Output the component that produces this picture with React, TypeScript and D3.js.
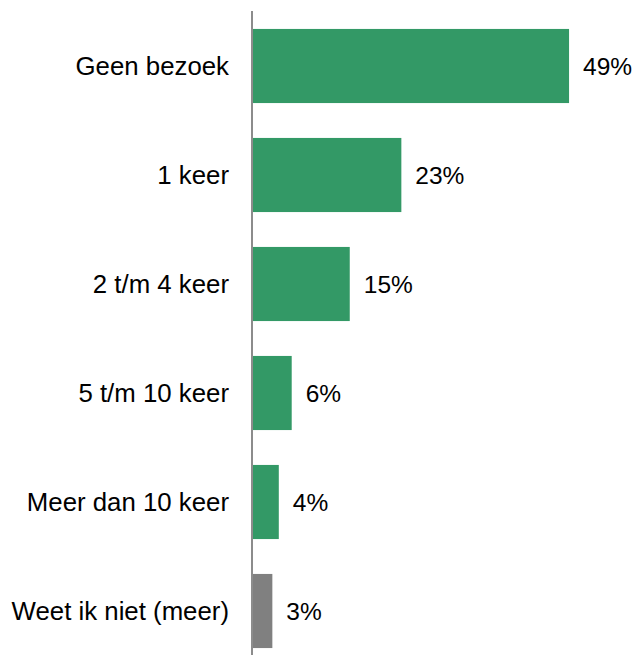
import React from "react";
import * as d3 from "d3";

const categories = ["Geen bezoek", "1 keer", "2 t/m 4 keer", "5 t/m 10 keer", "Meer dan 10 keer", "Weet ik niet (meer)"];
const values = [49, 23, 15, 6, 4, 3];
const colors = ["#339966", "#339966", "#339966", "#339966", "#339966", "#808080"];

const W = 636;
const H = 655;

export default function App() {
  const y = d3.scaleBand<string>().domain(categories).range([11.5, 665.5]).paddingInner(0.32).paddingOuter(0.16);
  const x = d3.scaleLinear().domain([0, 50]).range([253, 575.5]);
  const font = "'Liberation Sans', Arial, sans-serif";
  return (
    <svg width={W} height={H} style={{ position: "absolute", left: 0, top: 0 }}>
      <rect width={W} height={H} fill="#ffffff" />
      {categories.map((c, i) => (
        <g key={c}>
          <rect x={x(0)} y={y(c)!} width={x(values[i]) - x(0)} height={y.bandwidth()} fill={colors[i]} />
          <text x={229} y={y(c)! + y.bandwidth() / 2} dy="0.35em" textAnchor="end" fontFamily={font} fontSize={25.8} fill="#000">{c}</text>
          <text x={x(values[i]) + 14} y={y(c)! + y.bandwidth() / 2} dy="0.35em" textAnchor="start" fontFamily={font} fontSize={24.5} fill="#000">{values[i]}%</text>
        </g>
      ))}
      <line x1={252} x2={252} y1={11} y2={H} stroke="#8c8c8c" strokeWidth={2} />
    </svg>
  );
}
